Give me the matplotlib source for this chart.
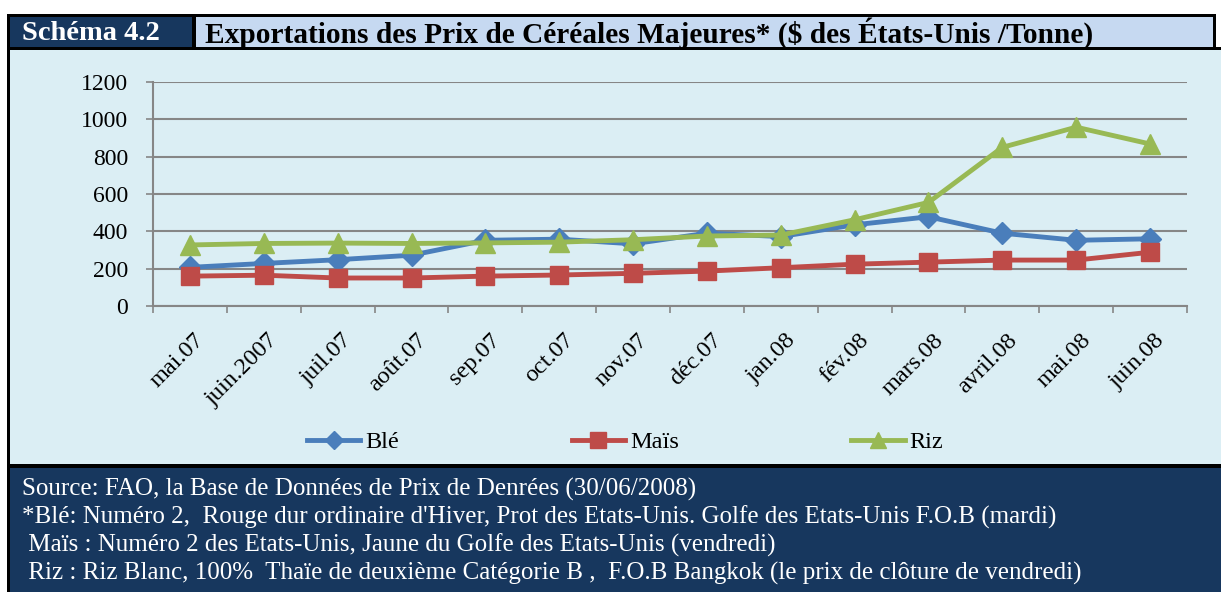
import numpy as np
import matplotlib
matplotlib.use("Agg")
import matplotlib.pyplot as plt
from matplotlib.patches import Rectangle
import matplotlib.transforms as mtransforms

months = ["mai.07", "juin.2007", "juil.07", "août.07", "sep.07", "oct.07", "nov.07",
          "déc.07", "jan.08", "fév.08", "mars.08", "avril.08", "mai.08", "juin.08"]
ble = [207, 228, 248, 272, 352, 358, 333, 390, 372, 435, 478, 390, 352, 360]
mais = [160, 165, 150, 150, 160, 166, 175, 187, 205, 224, 235, 246, 246, 288]
riz = [327, 335, 337, 335, 338, 342, 355, 375, 380, 462, 555, 850, 958, 868]
yticks = [0, 200, 400, 600, 800, 1000, 1200]

header_left = "Schéma 4.2"
header_title = "Exportations des Prix de Céréales Majeures* ($ des États-Unis /Tonne)"
footer_lines = [
    "Source: FAO, la Base de Données de Prix de Denrées (30/06/2008)",
    "*Blé: Numéro 2,  Rouge dur ordinaire d'Hiver, Prot des Etats-Unis. Golfe des Etats-Unis F.O.B (mardi)",
    " Maïs : Numéro 2 des Etats-Unis, Jaune du Golfe des Etats-Unis (vendredi)",
    " Riz : Riz Blanc, 100%  Thaïe de deuxième Catégorie B ,  F.O.B Bangkok (le prix de clôture de vendredi)",
]

W, H = 1221, 592
plt.rcParams['font.family'] = ['Liberation Serif', 'DejaVu Serif']
fig = plt.figure(figsize=(W / 100, H / 100), dpi=100)
fig.patch.set_facecolor('white')


def rect(x0, y0, x1, y1, color):
    r = Rectangle((x0 / W, 1 - y1 / H), (x1 - x0) / W, (y1 - y0) / H,
                  transform=fig.transFigure, facecolor=color, edgecolor='none', zorder=-10)
    fig.patches.append(r)


NAVY = '#17375E'
rect(7, 14, 1216, 50, 'black')
rect(7, 47, 1221, 592, 'black')
rect(10, 17, 192, 47, NAVY)
rect(196, 17, 1213, 47, '#C6D9F1')
rect(10, 50, 1221, 464, '#DBEEF4')
rect(10, 468, 1221, 592, NAVY)

fig.text(22 / W, 1 - 33 / H, header_left, color='white', fontsize=20.5, fontweight='bold',
         ha='left', va='center')
fig.text(205 / W, 1 - 33 / H, header_title, color='black', fontsize=21.2, fontweight='bold',
         ha='left', va='center')
for i, line in enumerate(footer_lines):
    fig.text(22 / W, 1 - (489 + 28 * i) / H, line, color='white', fontsize=18,
             ha='left', va='center')

ax = fig.add_axes([153 / W, 1 - 306 / H, (1187 - 153) / W, (306 - 82) / H])
ax.set_facecolor('none')
x = np.arange(len(months))
ax.plot(x, ble, color='#4A7EBB', lw=3.5, marker='D', ms=11, label='Blé', zorder=3)
ax.plot(x, mais, color='#BE4B48', lw=3.5, marker='s', ms=13, label='Maïs', zorder=4)
ax.plot(x, riz, color='#98B954', lw=3.5, marker='^', ms=14, label='Riz', zorder=5)

GRAY = '#868686'
ax.set_ylim(0, 1200)
ax.set_yticks(yticks)
ax.set_yticklabels([str(v) for v in yticks], fontsize=17)
ax.yaxis.grid(True, color=GRAY, lw=1.5)
ax.set_axisbelow(True)
ax.tick_params(axis='y', length=5, width=1.2, color=GRAY, pad=13)

ax.set_xlim(-0.5, len(months) - 0.5)
ax.set_xticks(np.arange(-0.5, len(months), 1))
ax.set_xticklabels([])
ax.tick_params(axis='x', which='major', length=5, width=1.2, color=GRAY, direction='out')
ax.set_xticks(x, minor=True)
ax.set_xticklabels(months, minor=True, fontsize=17.5, rotation=45, ha='right',
                   va='top', rotation_mode='anchor')
ax.tick_params(axis='x', which='minor', length=0, pad=17)
offset = mtransforms.ScaledTranslation(4 / 100, 0, fig.dpi_scale_trans)
for lab in ax.get_xticklabels(minor=True):
    lab.set_transform(lab.get_transform() + offset)

for s in ['top', 'right']:
    ax.spines[s].set_visible(False)
for s in ['left', 'bottom']:
    ax.spines[s].set_color(GRAY)
    ax.spines[s].set_linewidth(1.5)

leg = fig.legend(loc='center left', bbox_to_anchor=(307 / W, 1 - 442 / H), ncol=3,
                 frameon=False, fontsize=17.5, handlelength=2.2, handletextpad=0.2,
                 columnspacing=7.1, borderaxespad=0, borderpad=0, markerscale=0.85)

fig.savefig('out.png', dpi=100, facecolor='white')
